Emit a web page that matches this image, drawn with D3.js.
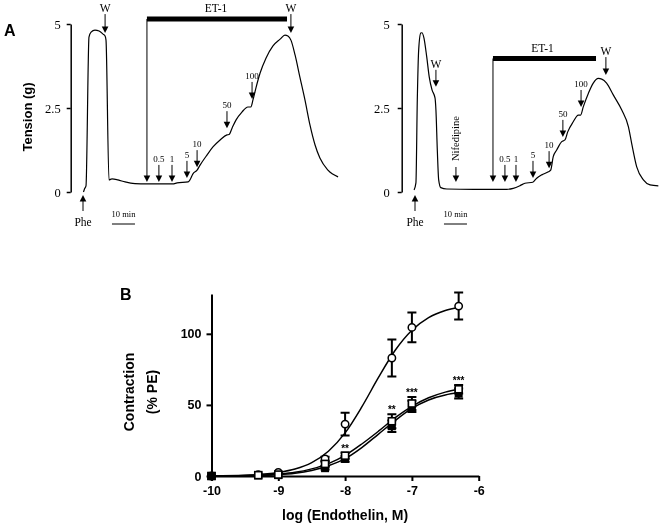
<!DOCTYPE html>
<html>
<head>
<meta charset="utf-8">
<script src="https://cdn.jsdelivr.net/npm/d3@7"></script>
<style>
  body { margin: 0; background: #fff; }
  svg { display: block; filter: grayscale(100%); }
  svg text { fill: #000; }
  .sans { font-family: "Liberation Sans", Arial, sans-serif; font-weight: bold; }
</style>
</head>
<body>
<div id="chart"></div>
<script>
// ---- panel A : tension traces (time in min, tension in g) ----
var leftTime = [0.2, 0.65, 1.3, 2.6, 3.5, 5.2, 7.0, 8.7, 9.6, 10.0, 11.3, 12.6, 15.2, 18.3, 22.6, 27.8, 33.5, 39.0, 40.9, 45.7, 46.5, 47.8, 49.6, 50.9, 53.9, 56.5, 59.6, 62.6, 63.5, 64.8, 66.5, 69.1, 71.7, 73.0, 73.9, 75.2, 77.0, 79.6, 82.6, 85.7, 87.8, 89.1, 90.4, 92.2, 94.3, 96.5, 98.7, 100.9, 103.0, 106.5, 110.9];
var leftTension = [0, 0.09, 0.18, 4.61, 4.76, 4.82, 4.79, 4.70, 4.64, 4.52, 0.36, 0.39, 0.36, 0.30, 0.25, 0.24, 0.24, 0.24, 0.27, 0.30, 0.36, 0.54, 0.65, 0.80, 1.10, 1.34, 1.55, 1.70, 1.71, 1.90, 2.14, 2.38, 2.53, 2.53, 2.74, 3.10, 3.54, 3.99, 4.35, 4.55, 4.67, 4.64, 4.52, 4.08, 3.42, 2.74, 1.99, 1.40, 1.01, 0.65, 0.45];

var rightTime = [-0.4, 0.4, 1.0, 1.6, 2.5, 3.0, 3.9, 5.1, 6.2, 7.4, 8.7, 9.1, 9.7, 10.3, 11.2, 13.8, 25.4, 39.9, 42.7, 45.7, 47.8, 51.2, 52.9, 55.1, 58.0, 59.0, 60.1, 61.6, 63.8, 65.2, 66.4, 68.8, 71.0, 72.0, 73.2, 75.4, 77.5, 79.7, 81.2, 83.3, 86.2, 89.9, 92.8, 94.2, 96.4, 99.3, 102.2, 105.8];
var rightTension = [0.06, 0.27, 2.74, 4.23, 4.73, 4.74, 4.58, 4.02, 3.42, 3.04, 2.80, 2.44, 1.25, 0.36, 0.13, 0.09, 0.08, 0.08, 0.11, 0.19, 0.26, 0.29, 0.41, 0.51, 0.60, 0.65, 1.05, 1.25, 1.50, 1.55, 1.79, 2.09, 2.29, 2.29, 2.54, 2.94, 3.24, 3.38, 3.36, 3.24, 2.89, 2.44, 1.94, 1.45, 0.75, 0.36, 0.21, 0.18];

var tensionTicks = [0, 2.5, 5];
var doseLabels = ["0.5", "1", "5", "10", "50", "100"];
// time of each addition and tension at the arrow tip
var leftDoseTime = [33, 38.7, 45.2, 49.6, 62.6, 73.5];
var leftDoseTip = [0.30, 0.30, 0.42, 0.74, 1.90, 2.77];
var rightDoseTime = [39.1, 43.9, 51.3, 58.3, 64.3, 72.2];
var rightDoseTip = [0.30, 0.30, 0.42, 0.71, 1.64, 2.53];
var leftWashTime = [9.6, 90.4];
var leftWashTip = [4.73, 4.73];
var rightWashTime = [9.1, 83];
var rightWashTip = [3.13, 3.48];
var leftET1 = [27.8, 88.7];   // start, end of ET-1 exposure
var rightET1 = [33.9, 78.7];
var nifedipineTime = 17.8;

// ---- panel B : concentration-response ----
var logConc = [-10, -9.3, -9, -8.3, -8, -7.3, -7, -6.3];
var ctrlMean = [0, 1, 2.5, 12, 36.5, 83, 104.5, 119.5];
var ctrlSem = [0, 0, 0.5, 1.5, 8, 13, 10.5, 9.5];
var openSqMean = [0, 0.6, 1, 8.5, 14.3, 38.5, 51, 61];
var openSqSem = [0, 0, 0, 1.5, 2, 5, 4.5, 3];
var filledSqMean = [0, 0.4, 0.6, 5.5, 12, 35, 49, 58];
var filledSqSem = [0, 0, 0, 1, 2, 4, 4, 3.5];

var fitX = [-10, -9.5, -9, -8.75, -8.5, -8.25, -8, -7.75, -7.5, -7.25, -7, -6.75, -6.5, -6.3];
var ctrlFit = [0.2, 0.6, 2.5, 4.9, 9.4, 17.4, 30.3, 48.6, 69.3, 88.4, 102.5, 111.4, 116.4, 118.7];
var openSqFit = [0, 0.4, 1.4, 2.6, 5, 8.7, 14.5, 22.5, 31.5, 41, 49, 55, 59, 61];
var filledSqFit = [0, 0.2, 0.9, 1.9, 3.9, 7.2, 12.2, 20, 29.5, 39, 47.5, 53.5, 57, 58.5];

var starX = [-8, -7.3, -7, -6.3];
var starText = ["**", "**", "***", "***"];
var starLevel = [21, 48.5, 60.5, 69];

var xTicksB = [-10, -9, -8, -7, -6];
var yTicksB = [0, 50, 100];

var W = 662, H = 524;
var svg = d3.select("#chart").append("svg")
  .attr("width", W).attr("height", H);
svg.append("rect").attr("width", W).attr("height", H).attr("fill", "#fff");

// ---------- panel A ----------
var yT = d3.scaleLinear().domain([0, 5]).range([192, 24]);

function downArrow(g, x, yTop, yTip) {
  g.append("line").attr("x1", x).attr("x2", x)
    .attr("y1", yTop).attr("y2", yTip - 5)
    .attr("stroke", "#000").attr("stroke-width", 1);
  g.append("path")
    .attr("d", "M" + (x - 3.3) + "," + (yTip - 6.5) + "L" + (x + 3.3) + "," + (yTip - 6.5) + "L" + x + "," + yTip + "Z")
    .attr("fill", "#000");
}
function upArrow(g, x, yTip, yBottom) {
  g.append("line").attr("x1", x).attr("x2", x)
    .attr("y1", yTip + 5).attr("y2", yBottom)
    .attr("stroke", "#000").attr("stroke-width", 1);
  g.append("path")
    .attr("d", "M" + (x - 3.3) + "," + (yTip + 6.5) + "L" + (x + 3.3) + "," + (yTip + 6.5) + "L" + x + "," + yTip + "Z")
    .attr("fill", "#000");
}

function drawTrace(opt) {
  var g = svg.append("g").attr("font-family", "Liberation Serif, serif");
  var x = d3.scaleLinear().domain([0, 110]).range([opt.x0, opt.x0 + 253]);

  var ax = g.append("g")
    .attr("transform", "translate(" + opt.axisX + ",0)")
    .call(d3.axisLeft(yT).tickValues(tensionTicks).tickSize(4).tickSizeOuter(0)
      .tickPadding(opt.pad).tickFormat(function(d){ return d; }));
  ax.select(".domain").attr("stroke-width", 1.5);
  ax.selectAll(".tick line").attr("stroke-width", 1.5);
  ax.selectAll("text").attr("font-size", 12.5)
    .attr("font-family", "Liberation Serif, serif");

  var pts = opt.time.map(function(t, i){ return [t, opt.tension[i]]; });
  g.append("path").datum(pts)
    .attr("d", d3.line().x(function(d){ return x(d[0]); }).y(function(d){ return yT(d[1]); })
      .curve(d3.curveMonotoneX))
    .attr("fill", "none").attr("stroke", "#000").attr("stroke-width", 1.2);

  // wash arrows
  opt.washTime.forEach(function(t, i){
    var tip = yT(opt.washTip[i]);
    var top = tip - opt.washLen[i];
    downArrow(g, x(t), top, tip);
    g.append("text").attr("x", x(t)).attr("y", top - 2).attr("text-anchor", "middle")
      .attr("font-size", 11.5).text("W");
  });

  // ET-1 bar
  var barY = opt.barY;
  g.append("rect").attr("x", x(opt.et1[0])).attr("y", barY - 2.5)
    .attr("width", x(opt.et1[1]) - x(opt.et1[0])).attr("height", 5).attr("fill", "#000");
  g.append("text").attr("x", (x(opt.et1[0]) + x(opt.et1[1])) / 2 + opt.et1LabelShift)
    .attr("y", barY - 7).attr("text-anchor", "middle").attr("font-size", 11.5).text("ET-1");
  downArrow(g, x(opt.et1[0]), barY, yT(0.3));

  // dose arrows
  opt.doseTime.forEach(function(t, i){
    var tip = yT(opt.doseTip[i]);
    downArrow(g, x(t), tip - 17, tip);
    g.append("text").attr("x", x(t)).attr("y", tip - 20).attr("text-anchor", "middle")
      .attr("font-size", 9).text(doseLabels[i]);
  });

  // Phe
  upArrow(g, x(0), 195, 211);
  g.append("text").attr("x", x(0)).attr("y", 226).attr("text-anchor", "middle")
    .attr("font-size", 11.5).text("Phe");

  // 10 min scale bar
  g.append("line").attr("x1", x(12.6)).attr("x2", x(22.6)).attr("y1", 224).attr("y2", 224)
    .attr("stroke", "#000").attr("stroke-width", 1);
  g.append("text").attr("x", (x(12.6) + x(22.6)) / 2).attr("y", 217).attr("text-anchor", "middle")
    .attr("font-size", 8.5).text("10 min");
  return {g: g, x: x};
}

drawTrace({
  x0: 83, axisX: 70.7, pad: 6,
  time: leftTime, tension: leftTension,
  washTime: leftWashTime, washTip: leftWashTip, washLen: [19, 19],
  et1: leftET1, barY: 19, et1LabelShift: -1,
  doseTime: leftDoseTime, doseTip: leftDoseTip
});
var right = drawTrace({
  x0: 415, axisX: 401.7, pad: 8,
  time: rightTime, tension: rightTension,
  washTime: rightWashTime, washTip: rightWashTip, washLen: [17, 18],
  et1: rightET1, barY: 58.5, et1LabelShift: -2,
  doseTime: rightDoseTime, doseTip: rightDoseTip
});

// nifedipine
downArrow(right.g, right.x(nifedipineTime), 167, yT(0.3));
right.g.append("text")
  .attr("transform", "translate(" + (right.x(nifedipineTime) + 3.5) + ",161) rotate(-90)")
  .attr("font-size", 10.5).text("Nifedipine");

svg.append("text").attr("class", "sans").attr("x", 4).attr("y", 36)
  .attr("font-size", 16).text("A");
svg.append("text").attr("class", "sans")
  .attr("transform", "translate(32,117) rotate(-90)")
  .attr("text-anchor", "middle").attr("font-size", 13).text("Tension (g)");

// ---------- panel B ----------
var xB = d3.scaleLinear().domain([-10, -6]).range([211.5, 478.7]);
var yB = d3.scaleLinear().domain([0, 128]).range([476, 294]);
var gB = svg.append("g");

var axX = gB.append("g").attr("transform", "translate(0,476)")
  .call(d3.axisBottom(xB).tickValues(xTicksB).tickSize(5).tickSizeOuter(0).tickPadding(5)
    .tickFormat(d3.format("d")));
var axY = gB.append("g").attr("transform", "translate(211.5,0)")
  .call(d3.axisLeft(yB).tickValues(yTicksB).tickSize(5).tickSizeOuter(0).tickPadding(5));
[axX, axY].forEach(function(a){
  a.select(".domain").attr("stroke-width", 2);
  a.selectAll(".tick line").attr("stroke-width", 2);
  a.selectAll("text").attr("class", "sans").attr("font-size", 12.5);
});
axX.selectAll(".tick text").text(function(d){ return String(d); });

gB.append("text").attr("class", "sans").attr("x", 120).attr("y", 300)
  .attr("font-size", 16).text("B");
gB.append("text").attr("class", "sans")
  .attr("transform", "translate(134,392) rotate(-90)")
  .attr("text-anchor", "middle").attr("font-size", 14).text("Contraction");
gB.append("text").attr("class", "sans")
  .attr("transform", "translate(157,392) rotate(-90)")
  .attr("text-anchor", "middle").attr("font-size", 14).text("(% PE)");
gB.append("text").attr("class", "sans").attr("x", (xB(-10) + xB(-6)) / 2).attr("y", 520)
  .attr("text-anchor", "middle").attr("font-size", 14).text("log (Endothelin, M)");

var fitLine = d3.line().x(function(d){ return xB(d[0]); }).y(function(d){ return yB(d[1]); })
  .curve(d3.curveMonotoneX);
[ctrlFit, openSqFit, filledSqFit].forEach(function(arr){
  gB.append("path").datum(fitX.map(function(x, i){ return [x, arr[i]]; }))
    .attr("d", fitLine).attr("fill", "none").attr("stroke", "#000").attr("stroke-width", 1.5);
});

function errorBars(mean, sem) {
  logConc.forEach(function(x, i){
    if (sem[i] < 1) return;
    var cx = xB(x), y1 = yB(mean[i] + sem[i]), y2 = yB(mean[i] - sem[i]);
    gB.append("path")
      .attr("d", "M" + cx + "," + y1 + "V" + y2 + "M" + (cx - 4.5) + "," + y1 + "H" + (cx + 4.5) +
        "M" + (cx - 4.5) + "," + y2 + "H" + (cx + 4.5))
      .attr("stroke", "#000").attr("stroke-width", 2).attr("fill", "none");
  });
}
errorBars(filledSqMean, filledSqSem);
errorBars(openSqMean, openSqSem);
errorBars(ctrlMean, ctrlSem);

gB.selectAll(".circ").data(logConc).enter().append("circle")
  .attr("cx", function(d){ return xB(d); })
  .attr("cy", function(d, i){ return yB(ctrlMean[i]); })
  .attr("r", 3.7).attr("fill", "#fff").attr("stroke", "#000").attr("stroke-width", 1.5);
gB.selectAll(".fsq").data(logConc).enter().append("rect")
  .attr("x", function(d){ return xB(d) - 4; })
  .attr("y", function(d, i){ return yB(filledSqMean[i]) - 4; })
  .attr("width", 8).attr("height", 8).attr("fill", "#000");
gB.selectAll(".osq").data(logConc).enter().append("rect")
  .attr("x", function(d){ return xB(d) - 3.5; })
  .attr("y", function(d, i){ return yB(openSqMean[i]) - 3.5; })
  .attr("width", 7).attr("height", 7).attr("fill", "#fff").attr("stroke", "#000").attr("stroke-width", 1.6);
// basal point: filled square drawn last, as in the original
gB.append("rect").attr("x", xB(logConc[0]) - 4).attr("y", yB(filledSqMean[0]) - 4)
  .attr("width", 8).attr("height", 8).attr("fill", "#000");

starX.forEach(function(x, i){
  gB.append("text").attr("class", "sans").attr("x", xB(x)).attr("y", yB(starLevel[i]) + 6)
    .attr("text-anchor", "middle").attr("font-size", 10).text(starText[i]);
});
</script>
</body>
</html>
